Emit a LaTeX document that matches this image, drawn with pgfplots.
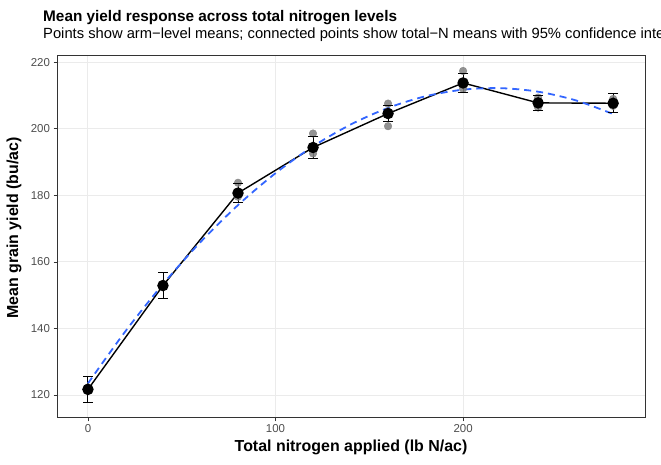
\documentclass[border=0pt]{standalone}
\usepackage{fontspec}
\setmainfont{Liberation Sans}
\usepackage{pgfplots}
\usepackage{pgfplotstable}
\pgfplotsset{compat=1.18}

\definecolor{gridgrey}{HTML}{EBEBEB}
\definecolor{framegrey}{HTML}{333333}
\definecolor{ticktext}{HTML}{4D4D4D}
\definecolor{smoothblue}{HTML}{3366FF}
\definecolor{armgrey}{HTML}{7F7F7F}

% total-N means with 95% confidence half-widths
\pgfplotstableread{
n    y      ci
0    121.7  3.8
40   152.9  4.0
80   180.7  2.8
120  194.4  3.2
160  204.6  2.3
200  213.8  2.8
240  207.8  2.2
280  207.7  2.9
}\means

% arm-level means
\pgfplotstableread{
n    y
0    121.2
0    122.3
40   152.6
40   153.4
80   183.8
80   180.4
80   179.6
120  198.6
120  194.2
120  192.6
160  207.6
160  205.2
160  200.8
200  217.4
200  213.2
200  212.1
240  209.4
240  206.4
240  207.3
280  209.0
280  206.9
}\arms

% quadratic response fit
\pgfplotstableread{
n    y
0    123.50
20   139.18
40   153.33
60   165.97
80   177.08
100  186.67
120  194.74
140  201.28
160  206.30
180  209.80
200  211.78
220  212.23
240  211.17
260  208.58
280  204.46
}\fit

\begin{document}
\begin{tikzpicture}[x=1bp,y=1bp]
\useasboundingbox (0,0) rectangle (661,465);
\clip (0,0) rectangle (661,465);

\node[anchor=base west, inner sep=0pt, font=\bfseries\fontsize{15.4}{18}\selectfont] at (43,443) {Mean yield response across total nitrogen levels};
\node[anchor=base west, inner sep=0pt, font=\fontsize{14.8}{17}\selectfont] at (43,426) {Points show arm−level means; connected points show total−N means with 95\% confidence intervals};

\begin{axis}[
  at={(57bp,47bp)}, anchor=south west,
  scale only axis, width=588bp, height=362bp,
  xmin=-16.5, xmax=297, ymin=113.1, ymax=221.9,
  xtick={0,100,200}, ytick={120,140,...,220},
  grid=major, grid style={gridgrey, line width=1bp},
  axis line style={framegrey, line width=1bp},
  tick style={framegrey, line width=0.8bp},
  tick align=outside, major tick length=3.5bp,
  xtick pos=bottom, ytick pos=left,
  ticklabel style={font=\fontsize{11.5}{13}\selectfont, text=ticktext},
  xticklabel style={yshift=1bp},
  /pgf/number format/assume math mode=true,
  clip=false,
]
% arm-level points
\addplot[only marks, mark=*, mark size=3.8bp, color=armgrey,
  mark options={draw=armgrey, fill=armgrey, opacity=0.85}] table[x=n, y=y] {\arms};
% confidence interval bars
\addplot[only marks, mark=none, black,
  error bars/.cd, y dir=both, y explicit, error mark=none,
  error bar style={black, line width=0.9bp}]
  table[x=n, y=y, y error=ci] {\means};
% caps at the interval ends
\addplot[only marks, mark=-, mark size=5bp, black, mark options={line width=0.9bp}]
  table[x=n, y expr=\thisrow{y}+\thisrow{ci}] {\means};
\addplot[only marks, mark=-, mark size=5bp, black, mark options={line width=0.9bp}]
  table[x=n, y expr=\thisrow{y}-\thisrow{ci}] {\means};
% total-N means
\addplot[black, line width=1.4bp, mark=*, mark size=5bp, mark options={fill=black}]
  table[x=n, y=y] {\means};
% fitted response
\addplot[smoothblue, line width=1.8bp, dash pattern=on 7bp off 5bp, smooth] table[x=n, y=y] {\fit};
\end{axis}

\node[rotate=90, anchor=center, font=\bfseries\fontsize{16}{18}\selectfont] at (14,237) {Mean grain yield (bu/ac)};
\node[anchor=base, font=\bfseries\fontsize{16}{18}\selectfont] at (351,13) {Total nitrogen applied (lb N/ac)};
\end{tikzpicture}
\end{document}
